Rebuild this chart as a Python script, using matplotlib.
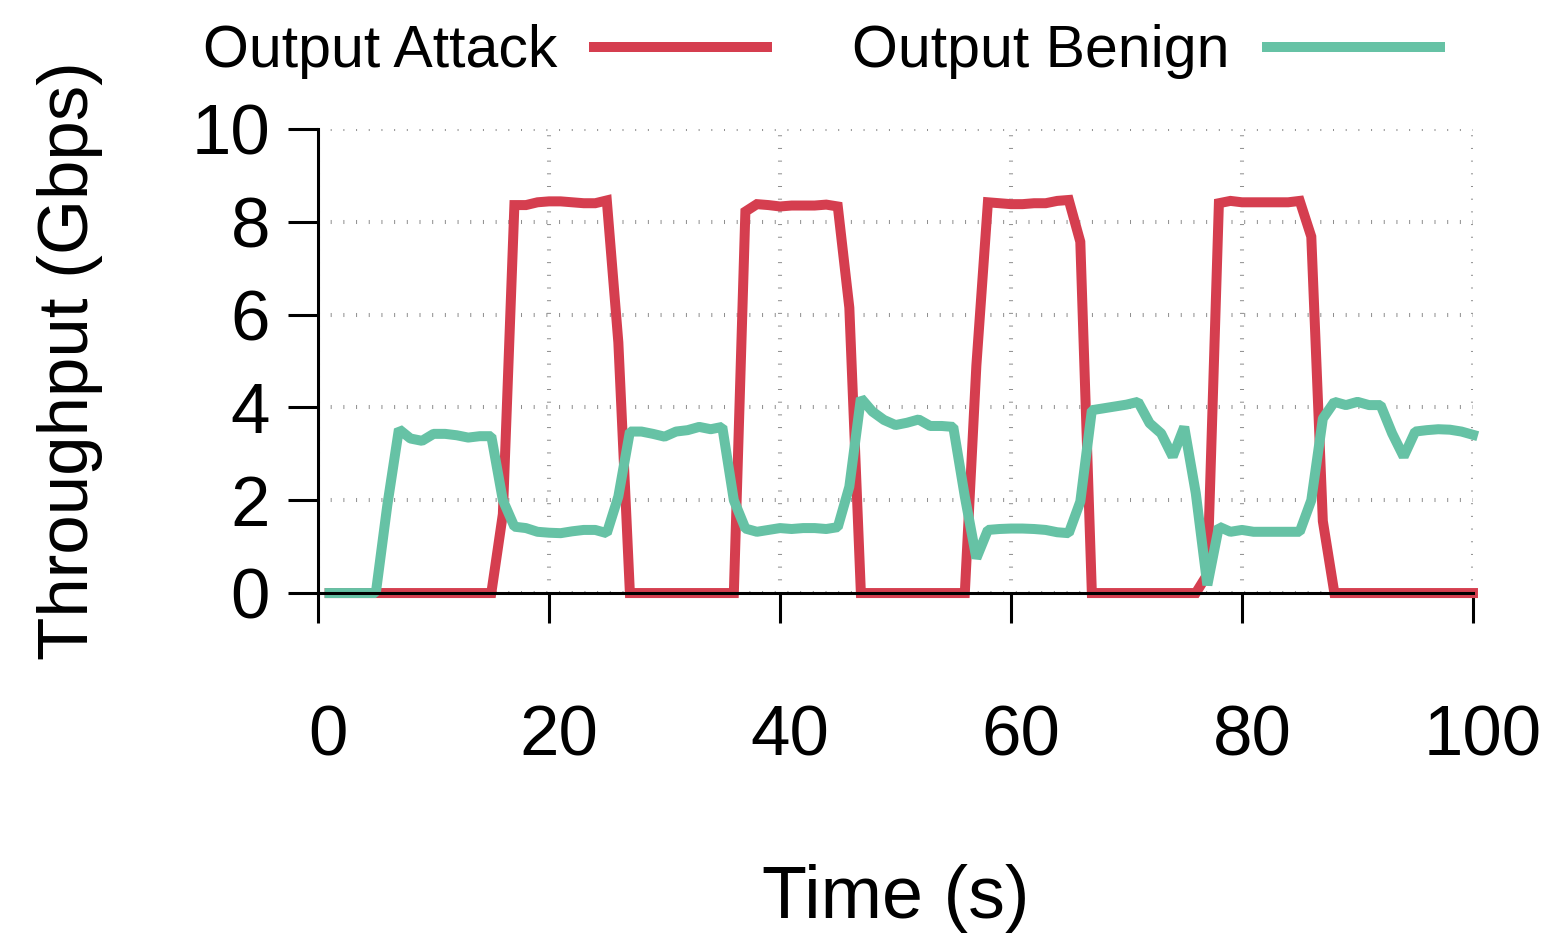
import matplotlib.pyplot as plt
import numpy as np
from matplotlib.transforms import ScaledTranslation

plt.rcParams['font.family'] = ['Liberation Sans', 'DejaVu Sans']

# one sample per second
time_s = np.arange(1, 101)

attack = [0, 0, 0, 0, 0, 0, 0, 0, 0, 0,
          0, 0, 0, 0, 0, 1.7, 8.36, 8.36, 8.42, 8.44,
          8.44, 8.42, 8.40, 8.40, 8.46, 5.4, 0, 0, 0, 0,
          0, 0, 0, 0, 0, 0, 8.22, 8.38, 8.36, 8.33,
          8.35, 8.35, 8.35, 8.37, 8.33, 6.15, 0, 0, 0, 0,
          0, 0, 0, 0, 0, 0, 4.9, 8.42, 8.40, 8.38,
          8.38, 8.40, 8.40, 8.45, 8.47, 7.57, 0, 0, 0, 0,
          0, 0, 0, 0, 0, 0, 0.4, 8.40, 8.45, 8.42,
          8.42, 8.42, 8.42, 8.42, 8.45, 7.68, 1.55, 0, 0, 0,
          0, 0, 0, 0, 0, 0, 0, 0, 0, 0]

benign = [0, 0, 0, 0, 0, 1.9, 3.53, 3.33, 3.28, 3.43,
          3.43, 3.40, 3.35, 3.38, 3.38, 2.0, 1.43, 1.40, 1.32, 1.30,
          1.29, 1.33, 1.36, 1.36, 1.29, 2.08, 3.48, 3.48, 3.43, 3.37,
          3.48, 3.51, 3.58, 3.53, 3.58, 2.0, 1.39, 1.32, 1.36, 1.40,
          1.38, 1.40, 1.40, 1.38, 1.42, 2.29, 4.2, 3.91, 3.73, 3.62,
          3.67, 3.74, 3.60, 3.60, 3.58, 2.08, 0.75, 1.36, 1.38, 1.39,
          1.39, 1.38, 1.36, 1.31, 1.29, 1.97, 3.94, 3.98, 4.02, 4.06,
          4.12, 3.66, 3.44, 2.94, 3.58, 2.15, 0.17, 1.43, 1.32, 1.36,
          1.32, 1.32, 1.32, 1.32, 1.32, 2.0, 3.76, 4.12, 4.05, 4.12,
          4.05, 4.05, 3.44, 2.94, 3.48, 3.51, 3.53, 3.52, 3.48, 3.41]

x_ticks = [0, 20, 40, 60, 80, 100]
y_ticks = [0, 2, 4, 6, 8, 10]

red = '#D53E4F'
green = '#66C2A5'

fig = plt.figure(figsize=(15.63, 9.4), dpi=100)
ax = fig.add_axes([0.2035, 0.3691, 0.7389, 0.4937])

# attack first so benign sits on top
ax.plot(time_s, attack, color=red, lw=7.2, label='Output Attack', clip_on=False, solid_joinstyle='miter')
ax.plot(time_s, benign, color=green, lw=7.2, label='Output Benign', clip_on=False, solid_joinstyle='bevel')

ax.set_xlim(0, 100)
ax.set_ylim(0, 10)
ax.set_xticks(x_ticks)
ax.set_yticks(y_ticks)

# gnuplot-like dotted grid
ax.set_axisbelow(True)
ax.grid(True, color='#8f8f8f', lw=2.9, linestyle=(0, (0.25, 2.9)))

for side in ['top', 'right']:
    ax.spines[side].set_visible(False)
for side in ['left', 'bottom']:
    ax.spines[side].set_linewidth(2.2)

ax.tick_params(axis='both', direction='out', length=21.6, width=2.2, labelsize=51)
ax.tick_params(axis='x', pad=59)
ax.tick_params(axis='y', pad=13)

# labels sit slightly right of their ticks in the original
for lbl in ax.get_xticklabels():
    lbl.set_transform(lbl.get_transform() + ScaledTranslation(0.10, 0, fig.dpi_scale_trans))

ax.set_xlabel('Time (s)', fontsize=53)
ax.xaxis.set_label_coords(0.5, -0.583)
ax.xaxis.label.set_va('top')

ax.set_ylabel('Throughput (Gbps)', fontsize=51)
ax.yaxis.set_label_coords(-0.2147, 0.5)
ax.yaxis.label.set_va('center')

ax.legend(loc='center', bbox_to_anchor=(0.5256, 0.945), bbox_transform=fig.transFigure,
          ncol=2, markerfirst=False, frameon=False, fontsize=42.5,
          handlelength=2.93, handletextpad=0.63, columnspacing=1.44,
          borderaxespad=0, borderpad=0)

fig.savefig('out.png', dpi=100)
